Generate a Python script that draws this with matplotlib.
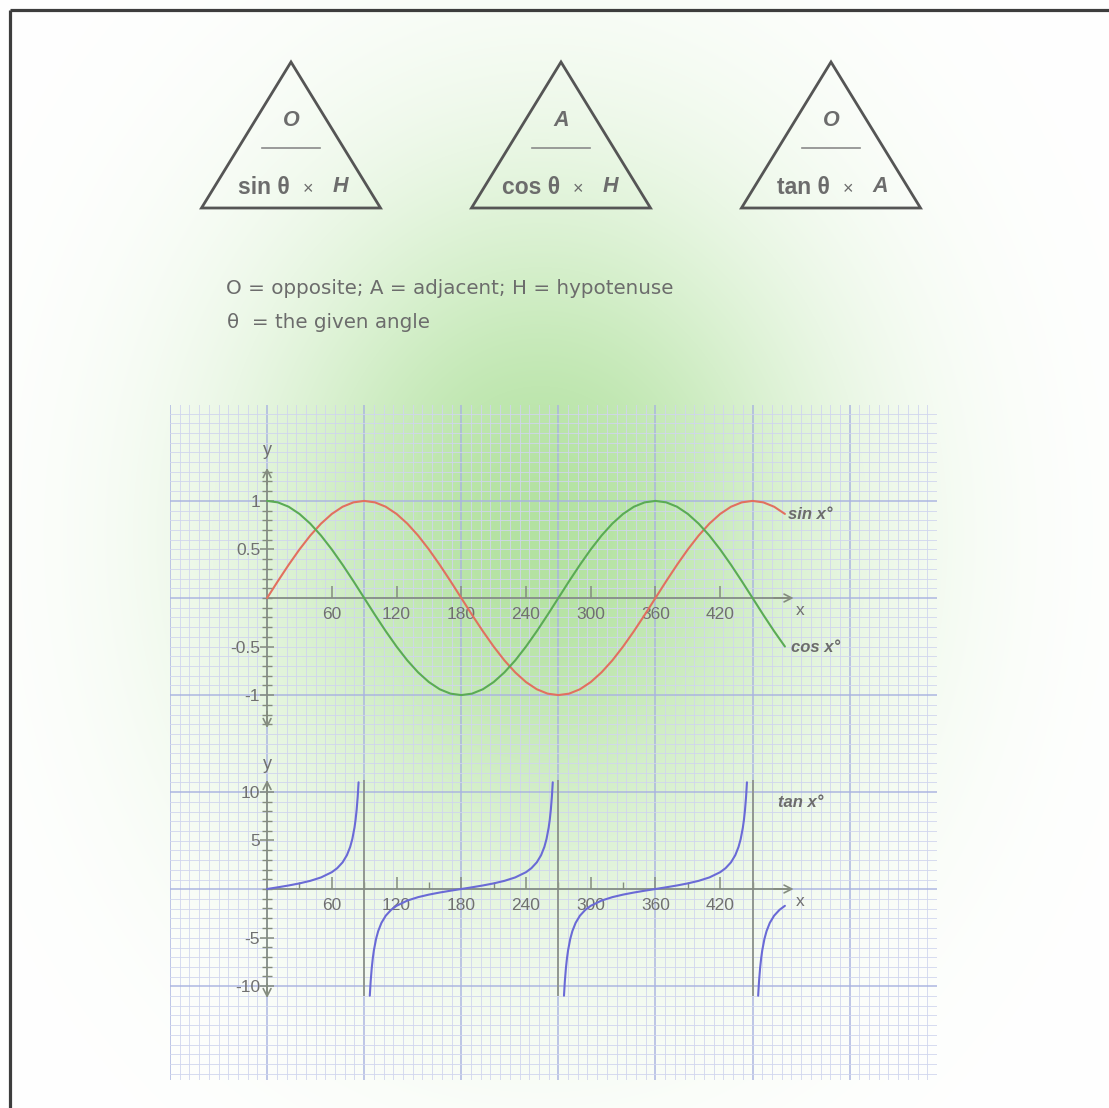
import numpy as np
import matplotlib
matplotlib.use("Agg")
import matplotlib.pyplot as plt
from matplotlib.patches import Polygon
from matplotlib.ticker import FixedLocator, MultipleLocator, NullFormatter, FixedFormatter

plt.rcParams["font.family"] = ["Liberation Sans", "DejaVu Sans"]
plt.rcParams["axes.unicode_minus"] = False

# ---------------------------------------------------------------- data
angles_deg = list(range(0, 481, 10))
sin_vals = [0.000, 0.174, 0.342, 0.500, 0.643, 0.766, 0.866, 0.940, 0.985, 1.000,
            0.985, 0.940, 0.866, 0.766, 0.643, 0.500, 0.342, 0.174, 0.000,
            -0.174, -0.342, -0.500, -0.643, -0.766, -0.866, -0.940, -0.985, -1.000,
            -0.985, -0.940, -0.866, -0.766, -0.643, -0.500, -0.342, -0.174, 0.000,
            0.174, 0.342, 0.500, 0.643, 0.766, 0.866, 0.940, 0.985, 1.000,
            0.985, 0.940, 0.866]
cos_vals = [1.000, 0.985, 0.940, 0.866, 0.766, 0.643, 0.500, 0.342, 0.174, 0.000,
            -0.174, -0.342, -0.500, -0.643, -0.766, -0.866, -0.940, -0.985, -1.000,
            -0.985, -0.940, -0.866, -0.766, -0.643, -0.500, -0.342, -0.174, 0.000,
            0.174, 0.342, 0.500, 0.643, 0.766, 0.866, 0.940, 0.985, 1.000,
            0.985, 0.940, 0.866, 0.766, 0.643, 0.500, 0.342, 0.174, 0.000,
            -0.174, -0.342, -0.500]

tan_x1 = [0, 10, 20, 30, 40, 50, 60, 65, 70, 74, 77, 79, 81, 82, 83, 84, 84.8]
tan_y1 = [0.000, 0.176, 0.364, 0.577, 0.839, 1.192, 1.732, 2.145, 2.747, 3.487,
          4.331, 5.145, 6.314, 7.115, 8.144, 9.514, 10.99]
tan_x2 = [95.2, 96, 97, 98, 99, 101, 103, 106, 110, 115, 120, 130, 140, 150, 160, 170,
          180, 190, 200, 210, 220, 230, 240, 245, 250, 254, 257, 259, 261, 262, 263, 264, 264.8]
tan_y2 = [-10.99, -9.514, -8.144, -7.115, -6.314, -5.145, -4.331, -3.487, -2.747, -2.145,
          -1.732, -1.192, -0.839, -0.577, -0.364, -0.176, 0.000, 0.176, 0.364, 0.577,
          0.839, 1.192, 1.732, 2.145, 2.747, 3.487, 4.331, 5.145, 6.314, 7.115, 8.144,
          9.514, 10.99]
tan_x3 = [275.2, 276, 277, 278, 279, 281, 283, 286, 290, 295, 300, 310, 320, 330, 340, 350,
          360, 370, 380, 390, 400, 410, 420, 425, 430, 434, 437, 439, 441, 442, 443, 444, 444.8]
tan_y3 = list(tan_y2)
tan_x4 = [455.2, 456, 457, 458, 459, 461, 463, 466, 470, 475, 480]
tan_y4 = [-10.99, -9.514, -8.144, -7.115, -6.314, -5.145, -4.331, -3.487, -2.747, -2.145, -1.732]
asymptotes_deg = [90, 270, 450]

x_tick_vals = [60, 120, 180, 240, 300, 360, 420]
x_tick_labels = ["60", "120", "180", "240", "300", "360", "420"]
sc_ytick_vals = [-1, -0.5, 0.5, 1]
sc_ytick_labels = ["-1", "-0.5", "0.5", "1"]
tan_ytick_vals = [-10, -5, 5, 10]
tan_ytick_labels = ["-10", "-5", "5", "10"]

# ---------------------------------------------------------------- layout
W, H = 1109, 1108
fig = plt.figure(figsize=(W / 100, H / 100), dpi=100)

def rect(x0, y0, x1, y1):
    return [x0 / W, 1 - y1 / H, (x1 - x0) / W, (y1 - y0) / H]

GX0, GX1, GY0, GY1 = 170, 937, 405, 1080
PX_DEG = 1.0788
X_LO = -90
X_HI = X_LO + (GX1 - GX0) / PX_DEG
PX_UNIT = 97.09
SC_ZERO = 598
TAN_ZERO = 889
PX_TAN = PX_UNIT / 10
SPLIT = 745

AX_COL = "#848c7f"
TXT_COL = "#6c6c6c"
LAB_COL = "#707070"

# ---------------------------------------------------------------- background
bg = fig.add_axes([0, 0, 1, 1])
bg.set_xlim(0, W)
bg.set_ylim(H, 0)
bg.axis("off")

yy, xx = np.mgrid[0:H, 0:W]
r2 = ((xx - 540) / 290.0) ** 2 + ((yy - 535) / 350.0) ** 2
a = 0.72 * np.exp(-r2)
green = np.array([150, 215, 125]) / 255.0
img = np.ones((H, W, 3)) * (1 - a[..., None]) + green * a[..., None]
bg.imshow(img, extent=(0, W, H, 0), zorder=0, interpolation="bilinear")
bg.set_xlim(0, W)
bg.set_ylim(H, 0)

# frame
bg.plot([9.5, 9.5], [9.5, H], color="#3d3d3d", lw=2.3, solid_capstyle="butt", zorder=5)
bg.plot([9.5, W], [9.5, 9.5], color="#3d3d3d", lw=2.3, solid_capstyle="butt", zorder=5)

# formula triangles
tri_specs = [
    (291, "O", "sin θ", "H"),
    (561, "A", "cos θ", "H"),
    (831, "O", "tan θ", "A"),
]
for cx, top, fn, side in tri_specs:
    bg.add_patch(Polygon([[cx, 62], [cx - 89.5, 208], [cx + 89.5, 208]], closed=True,
                         fill=False, ec="#555555", lw=2.0, joinstyle="miter", zorder=4))
    bg.plot([cx - 29, cx + 29], [148, 148], color="#8a8a8a", lw=1.2, zorder=4)
    bg.text(cx, 120, top, ha="center", va="center", fontsize=15.5, style="italic",
            fontweight="bold", color=TXT_COL, zorder=4)
    bg.text(cx - 1, 188, fn, ha="right", va="center", fontsize=16.5, fontweight="bold",
            color=TXT_COL, zorder=4)
    bg.text(cx + 17, 190, "×", ha="center", va="center", fontsize=13, color=TXT_COL, zorder=4)
    bg.text(cx + 49, 187, side, ha="center", va="center", fontsize=15.5, style="italic",
            fontweight="bold", color=TXT_COL, zorder=4)

bg.text(226, 288, "O = opposite; A = adjacent; H = hypotenuse", ha="left", va="center",
        fontsize=14.3, family="DejaVu Sans", color=TXT_COL, zorder=4)
bg.text(227, 322, "θ  = the given angle", ha="left", va="center",
        fontsize=14.3, family="DejaVu Sans", color=TXT_COL, zorder=4)

# ---------------------------------------------------------------- graph paper
grid = fig.add_axes(rect(GX0, GY0, GX1, GY1))
grid.set_facecolor("none")
grid.set_xlim(X_LO, X_HI)
grid.set_ylim((SC_ZERO - GY1) / PX_UNIT, (SC_ZERO - GY0) / PX_UNIT)
grid.xaxis.set_major_locator(MultipleLocator(90))
grid.xaxis.set_minor_locator(MultipleLocator(9))
grid.yaxis.set_major_locator(MultipleLocator(1))
grid.yaxis.set_minor_locator(MultipleLocator(0.1))
grid.grid(which="minor", color="#d0d5ee", lw=0.7, alpha=0.85)
grid.grid(which="major", color="#a9b3e0", lw=1.1, alpha=0.95)
grid.tick_params(which="both", length=0, labelbottom=False, labelleft=False)
for s in grid.spines.values():
    s.set_visible(False)


def style_axes(ax, ybound, y_minor, x_minor):
    ax.set_facecolor("none")
    for side in ("top", "right"):
        ax.spines[side].set_visible(False)
    ax.spines["left"].set_position(("data", 0))
    ax.spines["bottom"].set_position(("data", 0))
    ax.spines["left"].set_bounds(-ybound, ybound)
    ax.spines["bottom"].set_bounds(0, 484)
    for side in ("left", "bottom"):
        ax.spines[side].set_color(AX_COL)
        ax.spines[side].set_linewidth(1.2)
    ax.yaxis.set_minor_locator(FixedLocator(y_minor))
    ax.xaxis.set_major_locator(FixedLocator(x_tick_vals))
    ax.xaxis.set_major_formatter(FixedFormatter(x_tick_labels))
    if x_minor:
        ax.xaxis.set_minor_locator(FixedLocator(x_minor))
    ax.xaxis.set_minor_formatter(NullFormatter())
    ax.yaxis.set_minor_formatter(NullFormatter())
    ax.tick_params(axis="x", which="major", direction="in", length=9, width=1.1,
                   color=AX_COL, labelcolor=LAB_COL, labelsize=12.5, pad=6.5)
    ax.tick_params(axis="x", which="minor", direction="in", length=5, width=1.0, color=AX_COL)
    ax.tick_params(axis="y", which="major", direction="inout", length=10, width=1.1,
                   color=AX_COL, labelcolor=LAB_COL, labelsize=12.5, pad=0)
    ax.tick_params(axis="y", which="minor", direction="inout", length=7, width=1.0, color=AX_COL)
    head = dict(arrowstyle="->,head_length=0.55,head_width=0.28", color=AX_COL, lw=1.2,
                shrinkA=0, shrinkB=0)
    ax.annotate("", xy=(0, ybound * 1.03), xytext=(0, ybound * 0.9), arrowprops=head)
    ax.annotate("", xy=(0, -ybound * 1.03), xytext=(0, -ybound * 0.9), arrowprops=head)
    ax.annotate("", xy=(488, 0), xytext=(470, 0), arrowprops=head)


# ---------------------------------------------------------------- sin / cos
ax1 = fig.add_axes(rect(GX0, GY0, GX1, SPLIT))
ax1.set_xlim(X_LO, X_HI)
ax1.set_ylim((SC_ZERO - SPLIT) / PX_UNIT, (SC_ZERO - GY0) / PX_UNIT)
ax1.plot(angles_deg, sin_vals, color="#e2705f", lw=1.5, solid_capstyle="round", zorder=3)
ax1.plot(angles_deg, cos_vals, color="#5aab55", lw=1.5, solid_capstyle="round", zorder=3)
ax1.yaxis.set_major_locator(FixedLocator(sc_ytick_vals))
ax1.yaxis.set_major_formatter(FixedFormatter(sc_ytick_labels))
style_axes(ax1, 1.3, [v / 10 for v in range(-13, 14) if v % 5 != 0] + [0],
           None)
ax1.text(0, 1.52, "y", ha="center", va="center", fontsize=13, color=LAB_COL)
ax1.text(494, -0.13, "x", ha="center", va="center", fontsize=12.5, color=LAB_COL)
ax1.text(483, 0.86, "sin x°", ha="left", va="center", fontsize=12, style="italic",
         fontweight="bold", color=TXT_COL)
ax1.text(486, -0.51, "cos x°", ha="left", va="center", fontsize=12, style="italic",
         fontweight="bold", color=TXT_COL)

# ---------------------------------------------------------------- tan
ax2 = fig.add_axes(rect(GX0, SPLIT, GX1, GY1))
ax2.set_xlim(X_LO, X_HI)
ax2.set_ylim((TAN_ZERO - GY1) / PX_TAN, (TAN_ZERO - SPLIT) / PX_TAN)
ax2.vlines(asymptotes_deg, -11.0, 11.2, color="#8e948a", lw=1.3, zorder=2)
for bx, by in ((tan_x1, tan_y1), (tan_x2, tan_y2), (tan_x3, tan_y3), (tan_x4, tan_y4)):
    ax2.plot(bx, by, color="#6a6ad6", lw=1.5, solid_capstyle="round", zorder=3)
ax2.yaxis.set_major_locator(FixedLocator(tan_ytick_vals))
ax2.yaxis.set_major_formatter(FixedFormatter(tan_ytick_labels))
style_axes(ax2, 10.9, [v for v in range(-10, 11) if v % 5 != 0] + [0],
           [30, 90, 150, 210, 270, 330, 390, 450])
ax2.text(0, 12.8, "y", ha="center", va="center", fontsize=13, color=LAB_COL)
ax2.text(494, -1.3, "x", ha="center", va="center", fontsize=12.5, color=LAB_COL)
ax2.text(474, 8.9, "tan x°", ha="left", va="center", fontsize=12, style="italic",
         fontweight="bold", color=TXT_COL)

fig.savefig("out.png", dpi=100)
